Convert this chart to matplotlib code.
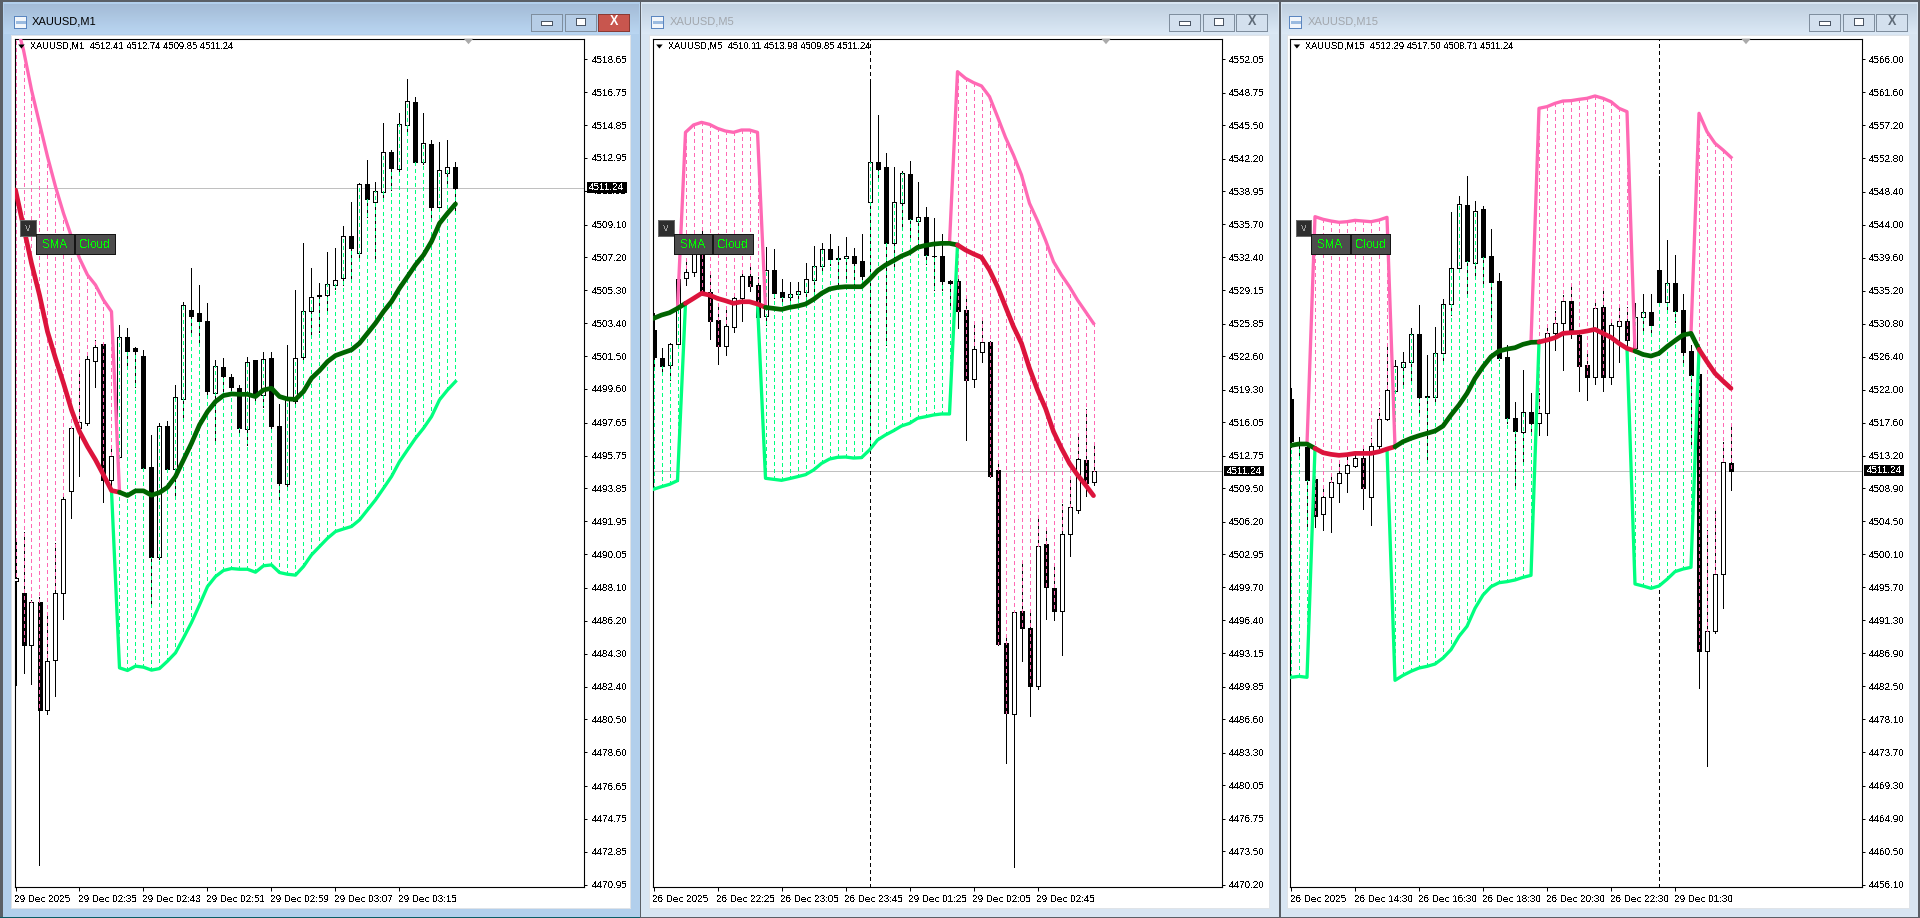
import matplotlib
matplotlib.use("Agg")
import matplotlib.pyplot as plt
from matplotlib.patches import Rectangle, Polygon
from matplotlib.transforms import Affine2D, ScaledTranslation
import numpy as np

plt.rcParams['font.family'] = ['Liberation Sans', 'DejaVu Sans']
plt.rcParams['lines.scale_dashes'] = False
plt.rcParams['text.hinting'] = 'native'
plt.rcParams['text.antialiased'] = False

# ---------------------- M1 ----------------------
m1_title = "XAUUSD,M1"
m1_header = "XAUUSD,M1  4512.41 4512.74 4509.85 4511.24"
m1_open = [4488.5,4487.79,4484.83,4487.28,4481.07,4483.92,4487.8,4493.69,4497.33,4497.62,4501.24,4502.18,4494.31,4495.65,4502.59,4501.95,4501.51,4495.08,4489.88,4497.43,4494.96,4499.0,4504.17,4503.97,4503.53,4499.39,4500.85,4500.28,4499.64,4497.27,4501.28,4499.26,4501.37,4497.46,4494.09,4498.93,4501.43,4504.13,4504.98,4505.05,4505.63,4505.99,4508.42,4507.44,4511.45,4510.39,4511.0,4513.28,4512.29,4514.84,4516.17,4512.7,4513.76,4510.1,4512.1,4512.41]
m1_high = [4491.0,4491.35,4487.4,4487.6,4486.64,4490.69,4493.4,4497.4,4500.7,4501.76,4502.43,4502.25,4496.27,4503.3,4503.11,4502.05,4501.86,4496.95,4497.66,4497.77,4499.83,4504.65,4506.57,4505.61,4504.55,4501.28,4501.37,4500.47,4499.83,4501.43,4501.3,4501.76,4501.76,4498.73,4502.14,4505.32,4508.02,4506.57,4505.71,4507.5,4507.73,4509.02,4510.43,4511.5,4512.83,4511.58,4514.95,4513.41,4515.53,4517.49,4516.45,4515.53,4513.99,4513.85,4513.99,4512.74]
m1_low = [4482.5,4483.16,4482.52,4472.06,4480.82,4481.88,4486.33,4492.17,4494.59,4497.5,4499.7,4493.09,4493.67,4495.6,4500.8,4499.7,4494.83,4487.03,4489.8,4494.83,4493.48,4497.81,4502.82,4502.24,4499.16,4496.46,4499.16,4499.26,4497.14,4496.37,4498.97,4498.58,4497.14,4493.09,4494.0,4498.8,4501.12,4502.63,4502.91,4504.07,4505.36,4505.6,4505.99,4507.25,4509.56,4507.06,4510.72,4511.1,4511.97,4514.37,4512.6,4512.6,4509.56,4510.05,4511.29,4509.85]
m1_close = [4488.7,4484.8,4487.28,4481.02,4483.87,4487.8,4493.23,4497.33,4497.71,4501.32,4502.01,4494.31,4495.73,4502.59,4501.82,4501.82,4495.06,4489.88,4497.43,4494.96,4499.12,4504.46,4503.84,4503.55,4499.51,4500.93,4500.37,4499.7,4497.37,4501.18,4499.26,4501.32,4497.43,4494.15,4498.97,4501.37,4504.11,4504.9,4505.03,4505.65,4505.88,4508.42,4507.73,4511.45,4510.56,4511.06,4513.28,4512.35,4514.89,4516.22,4512.74,4513.8,4510.1,4512.24,4512.41,4511.24]
m1_sma = [4511.1,4508.98,4506.86,4505.03,4502.91,4501.37,4499.93,4498.39,4497.14,4496.27,4495.5,4494.63,4493.73,4493.63,4493.44,4493.71,4493.71,4493.46,4493.61,4493.92,4494.54,4495.5,4496.46,4497.52,4498.29,4498.87,4499.22,4499.31,4499.29,4499.29,4499.16,4499.54,4499.64,4499.16,4499.02,4499.0,4499.45,4500.22,4500.66,4501.18,4501.53,4501.7,4501.86,4502.24,4502.82,4503.4,4504.07,4504.65,4505.42,4506.09,4506.77,4507.34,4508.12,4509.17,4509.75,4510.29]
m1_upper = [4520.9,4519.19,4516.88,4514.95,4513.03,4511.29,4509.75,4508.4,4507.15,4506.19,4505.61,4504.74,4504.07] + [None]*43
m1_lower = [None]*13 + [4483.48,4483.33,4483.58,4483.52,4483.35,4483.44,4483.87,4484.35,4485.21,4486.1,4487.12,4488.18,4488.76,4489.11,4489.22,4489.18,4489.18,4489.01,4489.38,4489.43,4488.99,4488.89,4488.84,4489.34,4490.01,4490.49,4490.97,4491.36,4491.51,4491.65,4492.03,4492.61,4493.19,4493.86,4494.54,4495.4,4496.08,4496.75,4497.33,4498.0,4498.97,4499.54,4500.03]
m1_yticks = ["4518.65","4516.75","4514.85","4512.95","4511.05","4509.10","4507.20","4505.30","4503.40","4501.50","4499.60","4497.65","4495.75","4493.85","4491.95","4490.05","4488.10","4486.20","4484.30","4482.40","4480.50","4478.60","4476.65","4474.75","4472.85","4470.95"]
m1_xticks = ["29 Dec 2025","29 Dec 02:35","29 Dec 02:43","29 Dec 02:51","29 Dec 02:59","29 Dec 03:07","29 Dec 03:15"]

# ---------------------- M5 ----------------------
m5_title = "XAUUSD,M5"
m5_header = "XAUUSD,M5  4510.11 4513.98 4509.85 4511.24"
m5_open = [4525.2,4522.4,4521.73,4523.78,4530.33,4531.0,4532.8,4528.94,4526.2,4523.65,4525.53,4528.34,4530.56,4529.67,4526.62,4531.15,4528.97,4528.51,4528.74,4529.0,4530.2,4531.6,4533.2,4532.25,4532.3,4532.55,4532.05,4537.94,4541.84,4541.34,4533.8,4537.77,4540.68,4536.05,4536.45,4532.5,4532.55,4530.1,4530.07,4527.19,4520.3,4523.06,4524.05,4511.32,4494.17,4487.15,4497.34,4495.7,4489.87,4503.95,4499.6,4497.37,4505.0,4507.4,4512.3,4510.11]
m5_high = [4526.9,4523.4,4523.9,4530.3,4532.15,4534.8,4535.3,4531.0,4527.5,4527.5,4528.67,4531.15,4531.55,4530.5,4533.47,4533.24,4530.23,4529.93,4530.0,4531.9,4533.5,4533.8,4534.7,4533.5,4534.4,4533.3,4534.7,4550.1,4546.5,4542.73,4541.34,4541.0,4541.97,4539.9,4537.37,4536.28,4534.73,4530.15,4530.5,4528.5,4525.9,4526.4,4524.1,4512.0,4495.1,4497.3,4502.4,4497.4,4506.5,4505.5,4502.07,4508.0,4510.66,4514.8,4517.4,4513.98]
m5_low = [4521.2,4520.9,4520.25,4523.7,4529.67,4530.6,4528.7,4524.3,4521.83,4522.72,4524.97,4526.13,4529.07,4526.4,4525.7,4528.34,4527.78,4527.58,4528.18,4528.25,4528.84,4530.8,4531.65,4529.5,4530.0,4529.67,4529.5,4537.1,4540.4,4523.7,4531.5,4535.3,4534.1,4533.47,4531.8,4529.2,4529.17,4527.5,4525.4,4514.3,4519.6,4522.07,4510.6,4494.0,4482.27,4471.95,4492.35,4486.9,4489.6,4496.5,4496.4,4493.0,4502.8,4507.09,4508.7,4509.85]
m5_close = [4522.5,4521.67,4523.78,4530.23,4531.0,4533.14,4529.07,4526.13,4523.62,4525.6,4528.34,4530.56,4529.57,4526.46,4531.15,4528.9,4528.5,4528.74,4529.04,4530.23,4531.6,4533.2,4532.2,4532.3,4532.55,4531.9,4530.6,4541.84,4541.14,4533.8,4537.87,4540.74,4536.18,4536.45,4532.61,4532.55,4530.1,4529.9,4527.1,4520.25,4523.3,4524.05,4510.76,4494.1,4487.2,4497.27,4495.65,4489.87,4503.8,4499.7,4497.37,4504.94,4507.7,4512.38,4510.07,4511.24]
m5_sma = [4526.36,4526.69,4526.92,4527.35,4527.85,4528.34,4528.84,4528.67,4528.34,4528.11,4527.85,4528.01,4528.01,4527.78,4527.45,4527.35,4527.25,4527.45,4527.58,4527.78,4528.24,4528.84,4529.27,4529.43,4529.5,4529.5,4529.5,4530.23,4531.09,4531.65,4532.08,4532.54,4532.87,4533.4,4533.6,4533.73,4533.8,4533.8,4533.64,4533.14,4532.75,4532.41,4531.16,4529.5,4527.52,4525.54,4523.88,4521.4,4519.26,4517.44,4515.13,4513.47,4511.98,4510.83,4509.84,4508.78]
m5_upper = [None]*4 + [4544.81,4545.54,4545.8,4545.6,4545.2,4544.94,4544.81,4545.04,4545.04,4544.81] + [None]*24 + [4550.83,4550.17,4549.74,4549.41,4548.35,4546.36,4544.31,4542.56,4540.58,4537.77,4536.05,4534.13,4531.98,4530.66,4529.5,4528.18,4527.03,4525.87]
m5_lower = [4509.41,4509.67,4509.9,4510.27] + [None]*10 + [4510.5,4510.4,4510.3,4510.47,4510.66,4510.86,4511.32,4511.98,4512.41,4512.58,4512.61,4512.51,4512.55,4513.31,4514.3,4514.8,4515.22,4515.69,4515.95,4516.45,4516.61,4516.78,4516.88,4516.88] + [None]*18
m5_yticks = ["4552.05","4548.75","4545.50","4542.20","4538.95","4535.70","4532.40","4529.15","4525.85","4522.60","4519.30","4516.05","4512.75","4509.50","4506.20","4502.95","4499.70","4496.40","4493.15","4489.85","4486.60","4483.30","4480.05","4476.75","4473.50","4470.20"]
m5_xticks = ["26 Dec 2025","26 Dec 22:25","26 Dec 23:05","26 Dec 23:45","29 Dec 01:25","29 Dec 02:05","29 Dec 02:45"]

# ---------------------- M15 ----------------------
m15_title = "XAUUSD,M15"
m15_header = "XAUUSD,M15  4512.29 4517.50 4508.71 4511.24"
m15_open = [4520.77,4515.0,4514.42,4510.12,4505.41,4507.77,4509.63,4510.87,4511.89,4512.87,4507.77,4514.56,4518.06,4521.88,4525.08,4525.65,4529.43,4521.2,4521.08,4526.85,4533.38,4538.17,4546.6,4538.92,4546.07,4539.81,4536.48,4526.32,4518.2,4516.42,4519.08,4517.62,4518.86,4529.51,4530.85,4533.82,4529.29,4525.3,4523.75,4532.98,4523.75,4530.53,4531.16,4527.52,4531.65,4532.31,4537.95,4533.73,4536.17,4532.62,4527.16,4524.1,4487.26,4489.83,4497.42,4512.29]
m15_high = [4522.19,4515.67,4515.09,4510.2,4509.32,4510.87,4512.65,4513.1,4513.54,4514.2,4515.53,4519.53,4527.96,4525.96,4527.07,4530.18,4533.29,4526.63,4530.4,4534.04,4545.63,4547.8,4550.47,4547.14,4546.47,4543.36,4537.5,4527.96,4520.42,4524.63,4521.52,4521.52,4530.4,4532.49,4534.62,4535.73,4529.96,4526.85,4533.73,4535.37,4531.29,4533.42,4532.98,4533.51,4534.71,4534.71,4550.47,4541.94,4539.95,4534.71,4527.96,4524.2,4503.33,4506.43,4515.09,4517.5]
m15_low = [4514.42,4513.1,4503.55,4503.77,4503.33,4503.02,4507.1,4508.43,4511.76,4506.12,4504.0,4514.2,4518.0,4521.8,4522.19,4523.08,4519.08,4512.65,4519.97,4525.74,4531.96,4538.1,4534.84,4537.06,4536.17,4531.51,4526.0,4517.53,4509.32,4512.2,4516.2,4515.98,4515.98,4527.3,4524.63,4528.85,4521.88,4520.64,4522.77,4521.88,4522.77,4525.74,4527.3,4527.07,4529.96,4529.16,4533.29,4532.18,4531.07,4525.52,4514.42,4482.29,4471.95,4489.6,4492.9,4508.71]
m15_close = [4515.22,4514.9,4509.98,4505.24,4507.77,4509.67,4510.87,4511.98,4512.87,4508.96,4514.56,4518.06,4521.97,4525.17,4525.65,4529.38,4521.08,4521.08,4526.85,4533.38,4538.17,4546.69,4539.19,4545.85,4539.72,4536.4,4526.27,4518.2,4516.55,4519.08,4517.53,4518.95,4529.51,4530.85,4533.82,4529.83,4525.21,4523.75,4532.84,4523.75,4530.62,4531.11,4528.63,4531.65,4532.31,4530.67,4533.73,4536.17,4532.53,4527.07,4523.97,4487.26,4489.83,4497.42,4512.34,4511.24]
m15_sma = [4514.6,4514.78,4514.78,4514.2,4513.62,4513.4,4513.27,4513.36,4513.53,4513.53,4513.53,4513.75,4514.11,4514.42,4515.09,4515.53,4515.89,4516.2,4516.51,4517.17,4518.64,4519.97,4521.52,4523.52,4525.07,4526.4,4527.16,4527.42,4527.6,4528.05,4528.31,4528.36,4528.62,4528.93,4529.51,4529.6,4529.64,4529.82,4530.04,4529.51,4528.98,4528.18,4527.51,4527.16,4526.7,4526.49,4526.85,4527.74,4528.54,4529.29,4529.51,4527.38,4525.74,4524.19,4523.16,4522.19]
m15_upper = [None]*3 + [4545.05,4544.7,4544.47,4544.3,4544.38,4544.56,4544.47,4544.38,4544.6,4544.96] + [None]*18 + [4559.48,4559.7,4560.14,4560.45,4560.5,4560.67,4560.81,4561.12,4560.81,4560.36,4559.48,4559.03] + [None]*8 + [4558.81,4556.37,4554.82,4553.93,4552.95]
m15_lower = [4483.71,4483.84,4483.71] + [None]*10 + [4483.31,4483.97,4484.51,4484.95,4485.17,4485.48,4486.28,4487.39,4489.17,4490.5,4492.9,4494.67,4495.78,4496.31,4496.45,4496.67,4497.02,4497.29] + [None]*12 + [4496.14,4495.87,4495.56,4495.87,4496.76,4497.78,4498.13,4498.36] + [None]*5
m15_yticks = ["4566.00","4561.60","4557.20","4552.80","4548.40","4544.00","4539.60","4535.20","4530.80","4526.40","4522.00","4517.60","4513.20","4508.90","4504.50","4500.10","4495.70","4491.30","4486.90","4482.50","4478.10","4473.70","4469.30","4464.90","4460.50","4456.10"]
m15_xticks = ["26 Dec 2025","26 Dec 14:30","26 Dec 16:30","26 Dec 18:30","26 Dec 20:30","26 Dec 22:30","29 Dec 01:30"]

last_price = 4511.24
last_label = "4511.24"

W, H = 1920, 918
PX = 0.72  # points per pixel at 100 dpi
FS = 9.9 * PX
TOP, BOTTOM = 38.7, 887.3
TICK_TOP_Y, TICK_BOT_Y = 59.33, 884.67
BAR_PX = 8.0

fig = plt.figure(figsize=(W / 100, H / 100), dpi=100, facecolor='#5a5f66')
px = Affine2D().scale(1, -1).translate(0, H)


def rect(x0, y0, x1, y1, fc, ec='none', lw=0, z=-5, aa=False):
    r = Rectangle((x0, y0), x1 - x0, y1 - y0, facecolor=fc, edgecolor=ec,
                  linewidth=lw * PX, transform=px, zorder=z, antialiased=aa)
    fig.add_artist(r)
    return r


def window(ox, wx0, wx1, client_l, client_r, icon_x, title, title_x, active):
    frame = '#b2cfec' if active else '#d8e5f2'
    rect(wx0, 1.5, wx1, 916.5, frame)
    top = np.array([0xa3, 0xbb, 0xd6] if active else [0xbf, 0xcf, 0xdf])
    bot = np.array([0xb9, 0xd5, 0xf1] if active else [0xdb, 0xe8, 0xf5])
    for k in range(30):
        c = (top + (bot - top) * k / 29) / 255
        rect(wx0 + 1, 4 + k, wx1 - 1, 5 + k, tuple(c))
    rect(client_l, 34.7, client_r, 908, 'white', ec='#dfe3e8', lw=1)
    # icon
    rect(icon_x, 16, icon_x + 12, 28, '#f2f6fb', ec='#5b86c0', lw=1, z=-4)
    rect(icon_x + 2, 21, icon_x + 12, 24, '#9bbbe0', z=-4)
    fig.text(title_x, 22.3, title, transform=px, fontsize=8.0, antialiased=True,
             color='black' if active else '#a2a7ad', va='center', ha='left', zorder=-3)
    # caption buttons
    xs = [ox + 530.6, ox + 564.5, ox + 598.4]
    for n, bx in enumerate(xs):
        closing = n == 2 and active
        rect(bx, 14, bx + 31, 30.7,
             '#c8564e' if closing else ('#b6cde6' if active else '#d3e0ee'),
             ec='#8a3a34' if closing else '#7f8e9e', lw=1, z=-4)
    rect(xs[0] + 10, 21, xs[0] + 21, 25, 'white', ec='#4a5564', lw=1, z=-3)
    rect(xs[1] + 11, 18, xs[1] + 20, 25, 'white', ec='#4a5564', lw=1, z=-3)
    fig.text(xs[2] + 15.5, 21.8, 'X', transform=px, fontsize=9, fontweight='bold', antialiased=True,
             color='white' if active else '#5f6b78', ha='center', va='center', zorder=-3)


def panel(left, right, x0, o, h, lo, c, sma, upper, lower, yticks, xticks, header, sep_bar):
    ax = fig.add_axes([left / W, 1 - BOTTOM / H, (right - left) / W, (BOTTOM - TOP) / H])
    ax.set_facecolor('white')
    o, h, lo, c, sma = map(np.asarray, (o, h, lo, c, sma))
    up = np.array([np.nan if v is None else v for v in upper], dtype=float)
    dn = np.array([np.nan if v is None else v for v in lower], dtype=float)
    ny = np.array([float(t) for t in yticks])
    x = np.arange(len(o))
    slope = (ny[0] - ny[-1]) / (TICK_BOT_Y - TICK_TOP_Y)
    ax.set_xlim((left - x0) / BAR_PX, (right - x0) / BAR_PX)
    ax.set_ylim(ny[-1] - (BOTTOM - TICK_BOT_Y) * slope, ny[0] + (TICK_TOP_Y - TOP) * slope)

    dash = (0, (2.5, 2.2))
    ax.axhline(last_price, color='#c0c0c0', lw=1 * PX, zorder=1, antialiased=False)
    if sep_bar is not None:
        ax.axvline(sep_bar, color='black', lw=1 * PX, linestyle=dash, zorder=1.5, antialiased=False)

    # candles
    ax.vlines(x, lo, h, color='black', lw=1 * PX, zorder=2, antialiased=False)
    is_up = c >= o
    ax.bar(x, np.abs(c - o), bottom=np.minimum(o, c), width=0.5,
           color=['white' if u else 'black' for u in is_up], edgecolor='black',
           linewidth=1 * PX, zorder=3, antialiased=False)

    # cloud dashes between the band and the close
    bear = ~np.isnan(up)
    ax.vlines(x[bear], up[bear], c[bear], color='#ff69b4', lw=1 * PX,
              linestyles=[dash], zorder=4, antialiased=False)
    bull = ~np.isnan(dn)
    ax.vlines(x[bull], dn[bull], c[bull], color='#00ff7f', lw=1 * PX,
              linestyles=[dash], zorder=4, antialiased=False)

    # bands meet the SMA where the trend flips
    up_line, dn_line = up.copy(), dn.copy()
    for i in range(len(x) - 1):
        if bear[i] and not bear[i + 1]:
            up_line[i + 1] = sma[i + 1]
            dn_line[i] = sma[i]
        elif bear[i + 1] and not bear[i]:
            up_line[i] = sma[i]
            dn_line[i + 1] = sma[i + 1]
    ax.plot(x, up_line, color='#ff69b4', lw=3.3 * PX, zorder=5, solid_joinstyle='round')
    ax.plot(x, dn_line, color='#00ff7f', lw=3.3 * PX, zorder=5, solid_joinstyle='round')

    # SMA coloured by trend
    start = 0
    for i in range(1, len(x)):
        if i == len(x) - 1 or bear[i] != bear[start]:
            ax.plot(x[start:i + 1], sma[start:i + 1],
                    color='#dc143c' if bear[start] else '#006400',
                    lw=4.7 * PX, zorder=6, solid_capstyle='round', solid_joinstyle='round')
            start = i

    ax.yaxis.tick_right()
    ax.set_yticks(ny)
    ax.set_yticklabels(yticks, fontsize=FS)
    ax.tick_params(axis='y', length=2, width=1 * PX, pad=3, color='black')
    ax.set_xticks(np.arange(len(xticks)) * 8)
    ax.set_xticklabels(xticks, fontsize=FS)
    ax.tick_params(axis='x', length=3, width=1 * PX, pad=2.5, color='black')
    offs = ScaledTranslation(-1.5 / 100, 0, fig.dpi_scale_trans)
    for t in ax.get_xticklabels():
        t.set_ha('left')
        t.set_transform(t.get_transform() + offs)
    for s in ax.spines.values():
        s.set_linewidth(1.1 * PX)
        s.set_color('black')

    # header line
    fig.text(left + 15.2, 46.7, header, transform=px, fontsize=FS * 0.95, ha='left', va='center', zorder=7)
    fig.add_artist(Polygon([(left + 3.5, 44.5), (left + 10, 44.5), (left + 6.7, 48.5)], closed=True,
                           facecolor='black', edgecolor='none', transform=px, zorder=7))
    # shift marker
    fig.add_artist(Polygon([(right - 120.7, 38.7), (right - 111.3, 38.7), (right - 116, 44.2)], closed=True,
                           facecolor='#aaaaaa', edgecolor='none', transform=px, zorder=7))
    # current price box, placed at the last price on this panel's scale
    price_y = TICK_TOP_Y + (ny[0] - last_price) / slope
    rect(right + 2, price_y - 5.3, right + 42, price_y + 5.3, 'black', z=7)
    fig.text(right + 22, price_y + 0.2, last_label, transform=px, fontsize=FS, color='white',
             ha='center', va='center', zorder=8)

    # on-chart buttons
    rect(left + 5.7, 220, left + 20.8, 235.7, '#2e2e2e', ec='#6a6a6a', lw=1, z=7)
    fig.text(left + 13.2, 228, 'v', transform=px, fontsize=8, color='#9a9a9a',
             ha='center', va='center', zorder=8)
    rect(left + 20.8, 234.3, left + 59.6, 253.7, '#4d4d4d', ec='#151515', lw=1, z=7)
    fig.text(left + 40.2, 244.5, 'SMA', transform=px, fontsize=8.4, color='#00ff00',
             ha='center', va='center', zorder=8)
    rect(left + 60.3, 234.3, left + 100, 253.7, '#4d4d4d', ec='#151515', lw=1, z=7)
    fig.text(left + 80.1, 244.5, 'Cloud', transform=px, fontsize=8.4, color='#00ff00',
             ha='center', va='center', zorder=8)
    return ax


window(0, 3, 640, 11.4, 630, 13.5, m1_title, 31.8, True)
window(638, 641, 1279, 649, 1268.6, 651.4, m5_title, 669.8, False)
window(1278, 1281, 1918, 1287, 1908.6, 1289, m15_title, 1307.8, False)
rect(0, 916.5, 640, 918, '#0b5c66')

panel(14.7, 584.5, 15.5, m1_open, m1_high, m1_low, m1_close, m1_sma, m1_upper, m1_lower,
      m1_yticks, m1_xticks, m1_header, None)
panel(652.7, 1222, 653.5, m5_open, m5_high, m5_low, m5_close, m5_sma, m5_upper, m5_lower,
      m5_yticks, m5_xticks, m5_header, 27)
panel(1290.2, 1862, 1291, m15_open, m15_high, m15_low, m15_close, m15_sma, m15_upper, m15_lower,
      m15_yticks, m15_xticks, m15_header, 46)

fig.savefig('out.png', dpi=100, facecolor=fig.get_facecolor())
